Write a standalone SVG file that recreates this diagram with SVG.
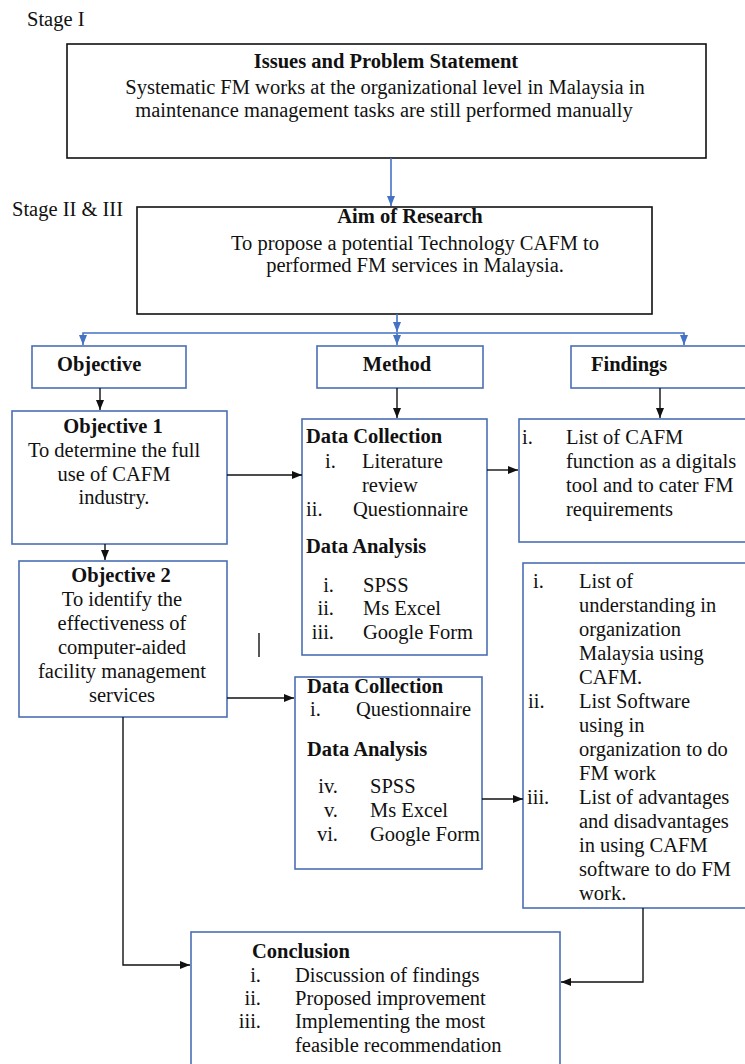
<svg xmlns="http://www.w3.org/2000/svg" width="745" height="1064" viewBox="0 0 745 1064">
<style>
text{font-family:"Liberation Serif","Times New Roman",serif;font-size:20.5px;fill:#111}
.b{font-weight:bold}
.m{text-anchor:middle}
.r{text-anchor:end}
.bk{fill:#fff;stroke:#111;stroke-width:1.6}
.bl{fill:#fff;stroke:#4a6eb4;stroke-width:1.6}
.cb{fill:none;stroke:#4472c4;stroke-width:1.6}
.ck{fill:none;stroke:#111;stroke-width:1.4}
</style>
<defs>
<marker id="ab" viewBox="0 0 10 8" refX="10" refY="4" markerWidth="10" markerHeight="8" markerUnits="userSpaceOnUse" orient="auto"><path d="M0,0 L10,4 L0,8 Z" fill="#111"/></marker>
<marker id="au" viewBox="0 0 10 8" refX="10" refY="4" markerWidth="10" markerHeight="8" markerUnits="userSpaceOnUse" orient="auto"><path d="M0,0 L10,4 L0,8 Z" fill="#4472c4"/></marker>
</defs>
<rect width="745" height="1064" fill="#fff"/>
<text x="27" y="26">Stage I</text>
<text x="12" y="216">Stage II &amp; III</text>

<g id="issues">
<rect class="bk" x="67" y="44" width="639" height="114"/>
<text class="b m" x="386" y="68">Issues and Problem Statement</text>
<text class="m" x="385" y="94">Systematic FM works at the organizational level in Malaysia in</text>
<text class="m" x="384" y="117">maintenance management tasks are still performed manually</text>
</g>

<g id="aim">
<rect class="bk" x="137" y="207" width="515" height="107"/>
<text class="b m" x="410" y="223">Aim of Research</text>
<text class="m" x="415" y="250">To propose a potential Technology CAFM to</text>
<text class="m" x="415" y="272">performed FM services in Malaysia.</text>
</g>

<g id="objective">
<rect class="bl" x="32" y="346" width="154" height="42"/>
<text class="b" x="57" y="371">Objective</text>
</g>
<g id="method">
<rect class="bl" x="317" y="346" width="166" height="42"/>
<text class="b m" x="397" y="371">Method</text>
</g>
<g id="findings">
<rect class="bl" x="571" y="346" width="190" height="42"/>
<text class="b" x="591" y="371">Findings</text>
</g>

<g id="objective1">
<rect class="bl" x="12" y="411" width="215" height="133"/>
<text class="b m" x="113" y="433">Objective 1</text>
<text class="m" x="114" y="457">To determine the full</text>
<text class="m" x="114" y="481">use of CAFM</text>
<text class="m" x="114" y="504">industry.</text>
</g>

<g id="method1">
<rect class="bl" x="302" y="419" width="185" height="236"/>
<text class="b" x="306" y="443">Data Collection</text>
<text x="325" y="468">i.</text>
<text x="362" y="468">Literature</text>
<text x="362" y="492">review</text>
<text x="306" y="516">ii.</text>
<text x="353" y="516">Questionnaire</text>
<text class="b" x="306" y="553">Data Analysis</text>
<text class="r" x="334" y="592">i.</text>
<text x="363" y="592">SPSS</text>
<text class="r" x="334" y="615">ii.</text>
<text x="363" y="615">Ms Excel</text>
<text class="r" x="334" y="639">iii.</text>
<text x="363" y="639">Google Form</text>
</g>

<g id="findings1">
<rect class="bl" x="519" y="419" width="240" height="123"/>
<text x="522" y="444">i.</text>
<text x="566" y="444">List of CAFM</text>
<text x="566" y="468">function as a digitals</text>
<text x="566" y="492">tool and to cater FM</text>
<text x="566" y="516">requirements</text>
</g>

<g id="objective2">
<rect class="bl" x="19" y="561" width="208" height="156"/>
<text class="b m" x="121" y="582">Objective 2</text>
<text class="m" x="122" y="606">To identify the</text>
<text class="m" x="122" y="630">effectiveness of</text>
<text class="m" x="122" y="654">computer-aided</text>
<text class="m" x="122" y="678">facility management</text>
<text class="m" x="122" y="702">services</text>
</g>

<g id="method2">
<rect class="bl" x="295" y="677" width="187" height="192"/>
<text class="b" x="307" y="693">Data Collection</text>
<text x="310" y="716">i.</text>
<text x="356" y="716">Questionnaire</text>
<text class="b" x="307" y="756">Data Analysis</text>
<text class="r" x="338" y="793">iv.</text>
<text x="370" y="793">SPSS</text>
<text class="r" x="338" y="817">v.</text>
<text x="370" y="817">Ms Excel</text>
<text class="r" x="338" y="841">vi.</text>
<text x="370" y="841">Google Form</text>
</g>

<g id="findings2">
<rect class="bl" x="523" y="563" width="240" height="345"/>
<text x="533" y="588">i.</text>
<text x="579" y="588">List of</text>
<text x="579" y="612">understanding in</text>
<text x="579" y="636">organization</text>
<text x="579" y="660">Malaysia using</text>
<text x="579" y="684">CAFM.</text>
<text x="528" y="708">ii.</text>
<text x="579" y="708">List Software</text>
<text x="579" y="732">using in</text>
<text x="579" y="756">organization to do</text>
<text x="579" y="780">FM work</text>
<text x="527" y="804">iii.</text>
<text x="579" y="804">List of advantages</text>
<text x="579" y="828">and disadvantages</text>
<text x="579" y="852">in using CAFM</text>
<text x="579" y="876">software to do FM</text>
<text x="579" y="900">work.</text>
</g>

<g id="conclusion">
<rect class="bl" x="191" y="932" width="369" height="140"/>
<text class="b" x="252" y="958">Conclusion</text>
<text class="r" x="261" y="982">i.</text>
<text x="295" y="982">Discussion of findings</text>
<text class="r" x="261" y="1005">ii.</text>
<text x="295" y="1005">Proposed improvement</text>
<text class="r" x="261" y="1028">iii.</text>
<text x="295" y="1028">Implementing the most</text>
<text x="295" y="1052">feasible recommendation</text>
</g>

<g id="connectors">
<path class="cb" d="M391,158 V206" marker-end="url(#au)"/>
<path class="cb" d="M397,314 V332" marker-end="url(#au)"/>
<path class="cb" d="M397,333 V345" marker-end="url(#au)"/>
<path class="cb" d="M397,333 H83 V345" marker-end="url(#au)"/>
<path class="cb" d="M397,333 H684 V345" marker-end="url(#au)"/>
<path class="ck" d="M100,388 V410" marker-end="url(#ab)"/>
<path class="ck" d="M397,388 V418" marker-end="url(#ab)"/>
<path class="ck" d="M660,388 V418" marker-end="url(#ab)"/>
<path class="ck" d="M105,544 V560" marker-end="url(#ab)"/>
<path class="ck" d="M227,475 H302" marker-end="url(#ab)"/>
<path class="ck" d="M487,470 H518" marker-end="url(#ab)"/>
<path class="ck" d="M227,698 H294" marker-end="url(#ab)"/>
<path class="ck" d="M482,799 H523" marker-end="url(#ab)"/>
<path class="ck" d="M123,717 V965 H190" marker-end="url(#ab)"/>
<path class="ck" d="M643,908 V982 H561" marker-end="url(#ab)"/>
<path class="ck" d="M259,633 V657"/>
</g>
</svg>
